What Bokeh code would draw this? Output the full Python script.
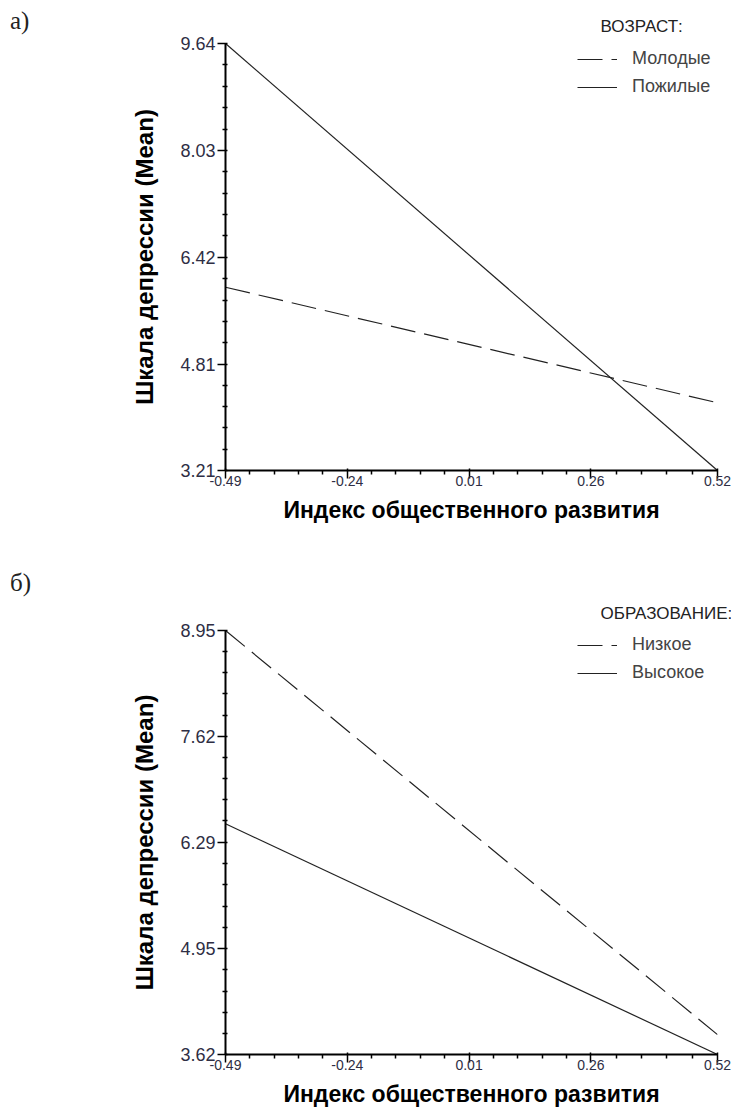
from bokeh.plotting import figure
from bokeh.layouts import column, row
from bokeh.models import (Range1d, FixedTicker, PrintfTickFormatter, Legend, LegendItem,
                          Div, Title)
from bokeh.embed import file_html
from bokeh.resources import INLINE

# ---- data ----
x_ticks = [-0.49, -0.24, 0.01, 0.26, 0.52]
x_ends = [-0.49, 0.52]

# panel a
a_y_ticks = [3.21, 4.81, 6.42, 8.03, 9.64]
a_young = [5.97, 4.23]      # Молодые
a_old = [9.64, 3.21]        # Пожилые
a_legend_title = "ВОЗРАСТ:"
a_labels = ["Молодые", "Пожилые"]

# panel b
b_y_ticks = [3.62, 4.95, 6.29, 7.62, 8.95]
b_low = [8.95, 3.87]        # Низкое
b_high = [6.52, 3.62]       # Высокое
b_legend_title = "ОБРАЗОВАНИЕ:"
b_labels = ["Низкое", "Высокое"]

x_title = "Индекс общественного развития"
y_title = "Шкала депрессии (Mean)"

TICK_COLOR = "#2e2e44"
LINE_COLOR = "#222222"
SANS = "Liberation Sans"

DIV_W = 40
FIG_W = 731 - DIV_W


def minor(ticks, n=5):
    out = []
    for a, b in zip(ticks[:-1], ticks[1:]):
        step = (b - a) / n
        out += [a + step * k for k in range(1, n)]
    return out


def make_panel(tag, tag_top, yt, dashed, solid, ltitle, labels, height, top, bottom, leg_y):
    p = figure(width=FIG_W, height=height, output_backend="svg", toolbar_location=None,
               x_range=Range1d(x_ticks[0], x_ticks[-1]), y_range=Range1d(yt[0], yt[-1]),
               min_border_left=225 - DIV_W, min_border_right=14,
               min_border_top=top, min_border_bottom=bottom)
    p.outline_line_color = None
    p.xgrid.visible = False
    p.ygrid.visible = False

    for ax, ticks in ((p.xaxis[0], x_ticks), (p.yaxis[0], yt)):
        ax.ticker = FixedTicker(ticks=ticks, minor_ticks=minor(ticks))
        ax.formatter = PrintfTickFormatter(format="%.2f")
        ax.axis_line_width = 2
        ax.axis_line_color = "black"
        ax.major_tick_line_color = "black"
        ax.minor_tick_line_color = "black"
        ax.major_tick_line_width = 1.5
        ax.minor_tick_line_width = 1.5
        ax.major_label_text_color = TICK_COLOR
        ax.major_label_text_font = SANS
        ax.axis_label_text_font = SANS
        ax.axis_label_text_font_style = "bold"
        ax.axis_label_text_color = "black"

    xa = p.xaxis[0]
    xa.axis_label = x_title
    xa.axis_label_text_font_size = "23px"
    xa.major_tick_out = 8
    xa.major_tick_in = 2
    xa.minor_tick_out = 4
    xa.minor_tick_in = 0
    xa.major_label_text_font_size = "14px"
    xa.major_label_standoff = -3
    xa.axis_label_standoff = 8

    ya = p.yaxis[0]
    ya.axis_label = y_title
    ya.axis_label_text_font_size = "24px"
    ya.major_tick_out = 8
    ya.major_tick_in = 2
    ya.minor_tick_out = 3
    ya.minor_tick_in = 2
    ya.major_label_text_font_size = "18px"
    ya.major_label_standoff = 2
    ya.axis_label_standoff = 19

    r1 = p.line(x_ends, dashed, line_color=LINE_COLOR, line_width=1.2, line_dash="25 9")
    r2 = p.line(x_ends, solid, line_color=LINE_COLOR, line_width=1.2)

    leg = Legend(items=[LegendItem(label=labels[0], renderers=[r1]),
                        LegendItem(label=labels[1], renderers=[r2])],
                 location=(352, leg_y),
                 padding=0, margin=0, border_line_color=None,
                 background_fill_alpha=0, glyph_width=40, glyph_height=20,
                 label_height=20, spacing=7, label_standoff=15,
                 label_text_font=SANS, label_text_font_size="18px")
    p.add_layout(leg, "center")

    lt = Title(text=ltitle, align="left", offset=375, standoff=16,
               text_font=SANS, text_font_size="17px", text_font_style="normal",
               text_color="#222222")
    p.add_layout(lt, "above")

    d = Div(text=tag, width=DIV_W, height=height, margin=0,
            styles={"font-family": "Liberation Serif", "font-size": "25px",
                    "color": "#222222", "padding-left": "10px",
                    "padding-top": f"{tag_top}px", "line-height": "1"})
    return row(d, p, spacing=0)


ra = make_panel("а)", 8, a_y_ticks, a_young, a_old, a_legend_title, a_labels,
                540, 43, 70, 373)
rb = make_panel("б)", 30, b_y_ticks, b_low, b_high, b_legend_title, b_labels,
                569, 90, 52, 371)

layout = column(ra, rb, spacing=0)
open("out.html", "w").write(file_html(layout, INLINE))
